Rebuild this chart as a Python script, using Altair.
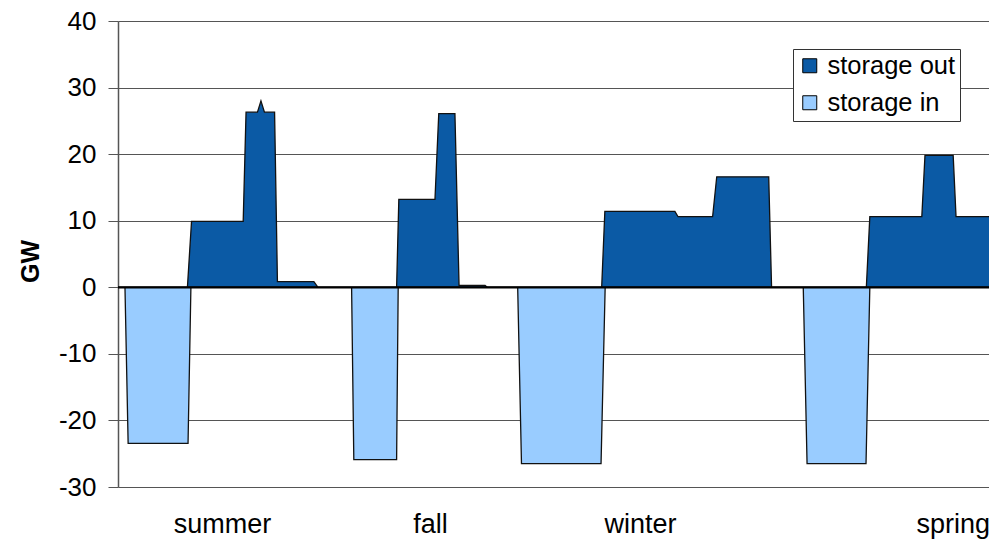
import altair as alt
import pandas as pd

# --- data (corner points of the hourly storage profile) ---
in_hours = [0, 2.2, 3.2, 22.1, 23.0, 73.7, 74.4, 87.9, 88.4, 126.1, 127.3, 152.4, 153.7,
            216.2, 217.4, 236.0, 237.2, 277.3]
in_gw = [0, 0, -23.45, -23.45, 0, 0, -25.9, -25.9, 0, 0, -26.5, -26.5, 0,
         0, -26.5, -26.5, 0, 0]

out_hours = [0, 21.9, 23.2, 39.5, 40.4, 44.0, 45.1, 46.2, 49.4, 50.3, 61.8, 63.1,
             87.9, 88.6, 100.0, 101.2, 106.3, 107.6, 115.8, 116.5,
             152.6, 153.6, 175.7, 176.7, 187.6, 188.9, 205.3, 206.2,
             236.1, 237.2, 253.6, 254.6, 263.5, 264.4, 275.6, 276.3, 277.3]
out_gw = [0, 0, 9.9, 9.9, 26.3, 26.3, 28.0, 26.3, 26.3, 0.85, 0.85, 0,
          0, 13.2, 13.2, 26.1, 26.1, 0.3, 0.3, 0,
          0, 11.4, 11.4, 10.6, 10.6, 16.6, 16.6, 0,
          0, 10.6, 10.6, 19.8, 19.8, 10.6, 10.6, 0, 0]

season_names = ["summer", "fall", "winter", "spring"]
season_hours = [32.8, 98.4, 164.7, 263.4]

series_names = ["storage out", "storage in"]
series_colors = ["#0b5aa5", "#99ccff"]

y_ticks = [-30, -20, -10, 0, 10, 20, 30, 40]

df = pd.concat([
    pd.DataFrame({"hour": out_hours, "GW": out_gw, "series": series_names[0]}),
    pd.DataFrame({"hour": in_hours, "GW": in_gw, "series": series_names[1]}),
], ignore_index=True)

label_expr = " : ".join(
    f"abs(datum.value - {h}) < 0.01 ? '{n}'" for h, n in zip(season_hours, season_names)
) + " : ''"

FONT = "Liberation Sans"

# visible window of the hour axis (the chart is cut at the right edge)
x_scale = alt.Scale(domain=[0, 274.8], nice=False, zero=False)
y_scale = alt.Scale(domain=[-30, 40], nice=False)

areas = alt.Chart(df).mark_area(
    stroke="#111111", strokeWidth=1.3, opacity=1, strokeJoin="miter", clip=True
).encode(
    x=alt.X("hour:Q", scale=x_scale, title=None,
            axis=alt.Axis(values=season_hours, labelExpr=label_expr, domain=False,
                          ticks=False, grid=False, labelFontSize=27, labelFont=FONT,
                          labelColor="black", labelBaseline="alphabetic",
                          labelPadding=45, labelOverlap=False, labelFlush=False,
                          labelBound=False)),
    y=alt.Y("GW:Q", scale=y_scale, stack=None, title="GW",
            axis=alt.Axis(values=y_ticks, grid=True, gridColor="#555555", gridWidth=1,
                          labelExpr="datum.value < 0 ? '-' + abs(datum.value) : '' + datum.value",
                          domainColor="#555555", domainWidth=1.5, tickColor="#555555",
                          tickSize=10, labelPadding=12, labelFontSize=26, labelFont=FONT,
                          labelColor="black", titleFont=FONT, titleFontSize=25,
                          titleFontWeight="bold", titleColor="black", titleAngle=270,
                          titleX=-88, titleY=240, titleAlign="center",
                          titleBaseline="middle")),
    color=alt.Color("series:N",
                    scale=alt.Scale(domain=series_names, range=series_colors),
                    legend=alt.Legend(title=None, orient="none", legendX=675, legendY=28,
                                      direction="vertical", symbolType="square",
                                      symbolSize=196, symbolStrokeColor="black",
                                      symbolStrokeWidth=1, symbolOffset=0,
                                      labelFont=FONT, labelFontSize=25.5,
                                      labelColor="black", labelOffset=5,
                                      rowPadding=10, padding=4,
                                      strokeColor="#333333", fillColor="white")),
)

zero = alt.Chart(pd.DataFrame({"v": [0]})).mark_rule(
    color="black", strokeWidth=2.2
).encode(y=alt.Y("v:Q", scale=y_scale))

chart = alt.layer(areas, zero).properties(
    width=871, height=466,
    autosize=alt.AutoSizeParams(type="none"),
    padding={"left": 110, "top": 13, "right": 0, "bottom": 52},
).configure_view(stroke=None).configure(background="white")

chart.save("out.html", embed_options={"renderer": "svg", "actions": False})
